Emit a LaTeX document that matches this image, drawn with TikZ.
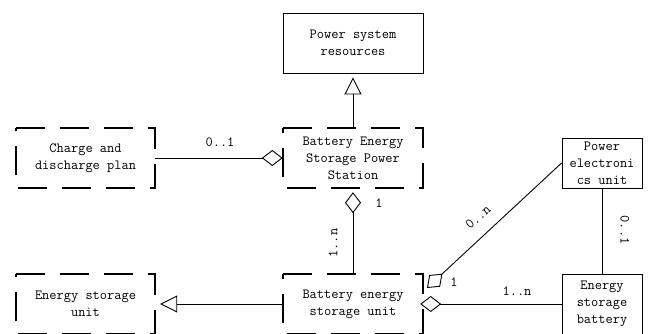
\documentclass[tikz,border=0pt]{standalone}
\usepackage{fontspec}
\newfontfamily\dmono{Latin Modern Mono}
\usetikzlibrary{arrows.meta,calc}
\begin{document}
\begin{tikzpicture}[x=1pt,y=-1pt]
\tikzset{
  dtext/.style={font={\dmono\fontsize{14}{17}\selectfont}},
  dbox/.style={dtext, minimum width=139pt, minimum height=60pt, align=center, inner sep=0pt},
  dline/.style={line width=1.8pt, dash pattern=on 29pt off 15pt},
  sbox/.style={dtext, draw, line width=0.9pt, align=center, inner sep=0pt},
  conn/.style={line width=0.9pt},
  gen/.style={-{Triangle[open,length=17pt,width=17pt]}},
  agg/.style={-{Diamond[open,length=21pt,width=16pt]}},
  lbl/.style={dtext, inner sep=0pt}}
\useasboundingbox (0,0) rectangle (649,333);
% boxes
\node[sbox, minimum width=140pt, minimum height=60pt] (psr) at (353,43) {Power system\\resources};
\node[dbox, minimum width=140pt] (bess) at (353,158) {Battery Energy\\Storage Power\\Station};
\node[dbox] (cdp) at (85.5,158) {Charge and\\discharge plan};
\node[dbox] (esu) at (85.5,304) {Energy storage\\unit};
\node[dbox, minimum width=140pt] (besu) at (353,304) {Battery energy\\storage unit};
\node[sbox, minimum width=80pt, minimum height=50pt] (peu) at (602,163) {Power\\electroni\\cs unit};
\node[sbox, minimum width=80pt, minimum height=60pt] (esb) at (602,304) {Energy\\storage\\battery};
% dashed outlines, clockwise from top left
\foreach \n in {bess,cdp,esu,besu}
  \draw[dline] (\n.north west) -- (\n.north east) -- (\n.south east) -- (\n.south west) -- cycle;
\coordinate (d1) at (427,288);
% connectors
\draw[conn,gen,shorten >=4pt] (bess.north) -- (psr.south);
\draw[conn,agg] (cdp.east) -- (bess.west);
\draw[conn,agg,shorten >=4pt] (besu.north) -- (bess.south);
\draw[conn,gen,shorten >=5pt] (besu.west) -- (esu.east);
\draw[conn,agg,shorten >=-3pt] (esb.west) -- (besu.east);
\draw[conn,agg] (peu.west) -- (d1);
\draw[conn] (esb.north) -- (peu.south);
% labels
\node[lbl] (l1) at (220,142) {0..1};
\node[lbl] (l2) at (379,203) {1};
\node[lbl, rotate=90] (l3) at (333,243) {1..n};
\node[lbl, rotate=42] (l4) at (478,217) {0..n};
\node[lbl] (l5) at (454,282) {1};
\node[lbl] (l6) at (517,291) {1..n};
\node[lbl, rotate=-90] (l7) at (625,230) {0..1};
\end{tikzpicture}
\end{document}
